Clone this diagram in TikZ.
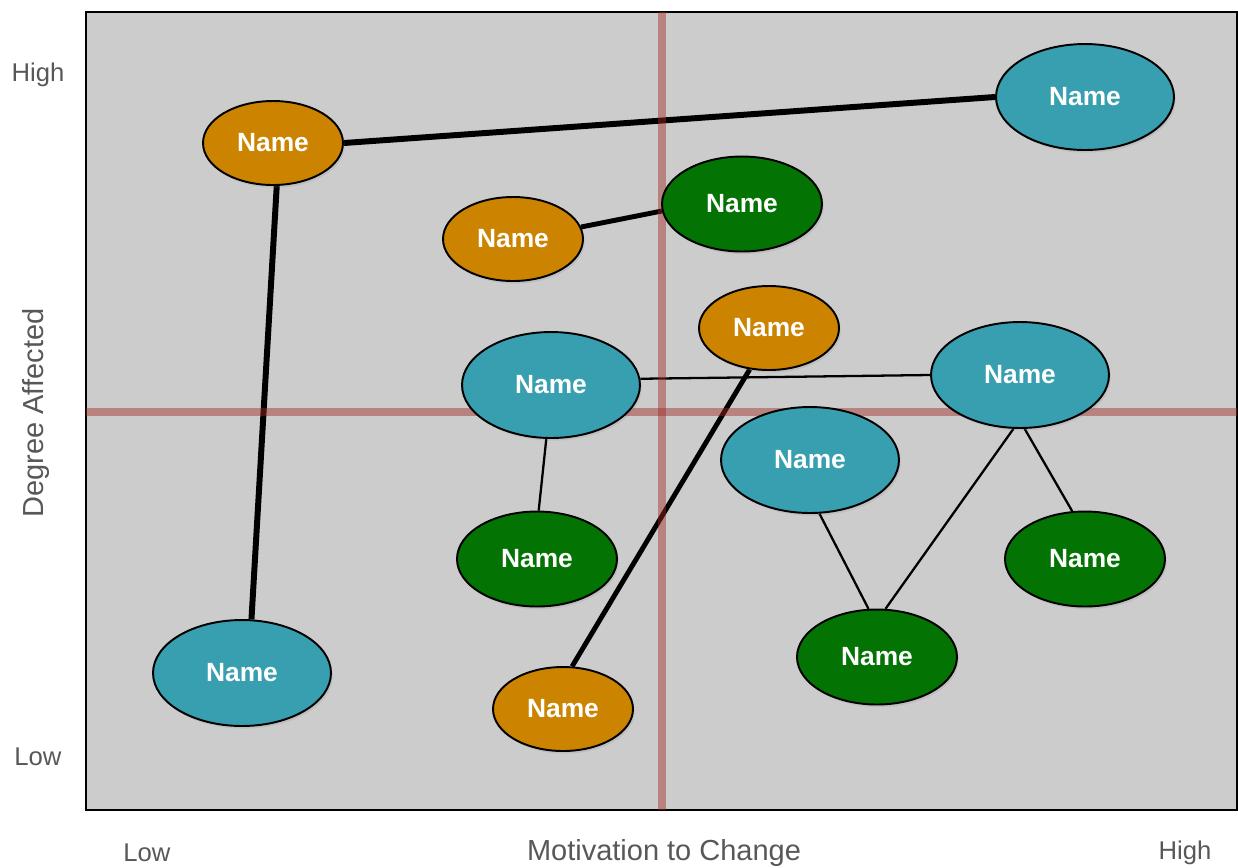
\documentclass[tikz,border=0pt]{standalone}
\usepackage{fontspec}
\setmainfont{Liberation Sans}
\usepackage{tikz}
\usetikzlibrary{shapes,shadows,backgrounds,positioning}

\definecolor{ochre}{RGB}{204,132,0}
\definecolor{lagoon}{RGB}{55,159,175}
\definecolor{leaf}{RGB}{3,115,3}
\definecolor{pane}{RGB}{204,204,204}
\definecolor{rust}{RGB}{160,40,35}
\definecolor{axisgray}{RGB}{88,88,88}

\begin{document}
\begin{tikzpicture}[x=0.02cm,y=-0.02cm]
  \tikzstyle{stake}=[ellipse,draw=black,line width=1.1pt,text=white,inner sep=0pt,
    font=\fontsize{15}{18}\selectfont\bfseries,
    drop shadow={opacity=0.18,shadow xshift=1pt,shadow yshift=-1.5pt}]
  \tikzstyle{low}=[stake,fill=ochre,minimum width=2.8cm,minimum height=1.68cm]
  \tikzstyle{mid}=[stake,fill=lagoon,minimum width=3.56cm,minimum height=2.12cm]
  \tikzstyle{top}=[stake,fill=leaf,minimum width=3.2cm,minimum height=1.9cm]
  \tikzstyle{tie}=[line width=3.4pt]
  \tikzstyle{link}=[line width=1.3pt]
  \tikzstyle{tick}=[text=axisgray,font=\fontsize{14.6}{17}\selectfont]
  \tikzstyle{axis}=[text=axisgray,font=\fontsize{16.5}{19}\selectfont]

  \useasboundingbox (0,0) rectangle (1238,867);

  \begin{scope}
    % frame corners
    \coordinate (nw) at (86,12);
    \coordinate (se) at (1237,810);
    % stakeholders
    \node [low] (o1)  at (273,143) {Name};
    \node [mid] (t2)  at (1085,97) {Name};
    \node [low] (o3)  at (513,239) {Name};
    \node [top] (g4)  at (742,204) {Name};
    \node [low] (o5)  at (769,328) {Name};
    \node [mid] (t6)  at (551,385) {Name};
    \node [mid] (t7)  at (1020,375) {Name};
    \node [mid] (t8)  at (810,460) {Name};
    \node [top] (g9)  at (537,559) {Name};
    \node [top] (g10) at (1085,559) {Name};
    \node [top] (g11) at (877,657) {Name};
    \node [mid] (t12) at (242,673) {Name};
    \node [low] (o13) at (563,709) {Name};
    % axis labels
    \node [tick] (yhi) at (38,75) {High};
    \node [tick] (ylo) at (38,757) {Low};
    \node [tick] (xlo) at (147,853) {Low};
    \node [tick] (xhi) at (1185,853) {High};
    \node [axis] (xlab) at (664,853) {Motivation to Change};
    \node [axis,rotate=90] (ylab) at (36,413) {Degree Affected};
  \end{scope}

  \begin{pgfonlayer}{background}
    \filldraw [fill=pane,draw=black,line width=1.2pt] (nw) rectangle (se);
    \begin{scope}
      \draw [tie] (o1.east) -- (t2.west);
      \draw [tie] (o1.-85) -- (t12.80);
      \draw [tie,line width=2.8pt] (o3.10) -- (g4.185);
      \draw [tie,line width=2.8pt] (o13.78) -- (o5.-115);
      \draw [link] (t6.4) -- (t7.west);
      \draw [link] (t6.-95) -- (g9.88);
      \draw [link] (t8.-80) -- (g11.100);
      \draw [link] (t7.-97) -- (g11.80);
      \draw [link] (t7.-85) -- (g10.105);
    \end{scope}
    % quadrant lines
    \fill [rust,opacity=0.45] (658,12) rectangle (666,810);
    \fill [rust,opacity=0.45] (86,408) rectangle (1237,416);
  \end{pgfonlayer}
\end{tikzpicture}
\end{document}
